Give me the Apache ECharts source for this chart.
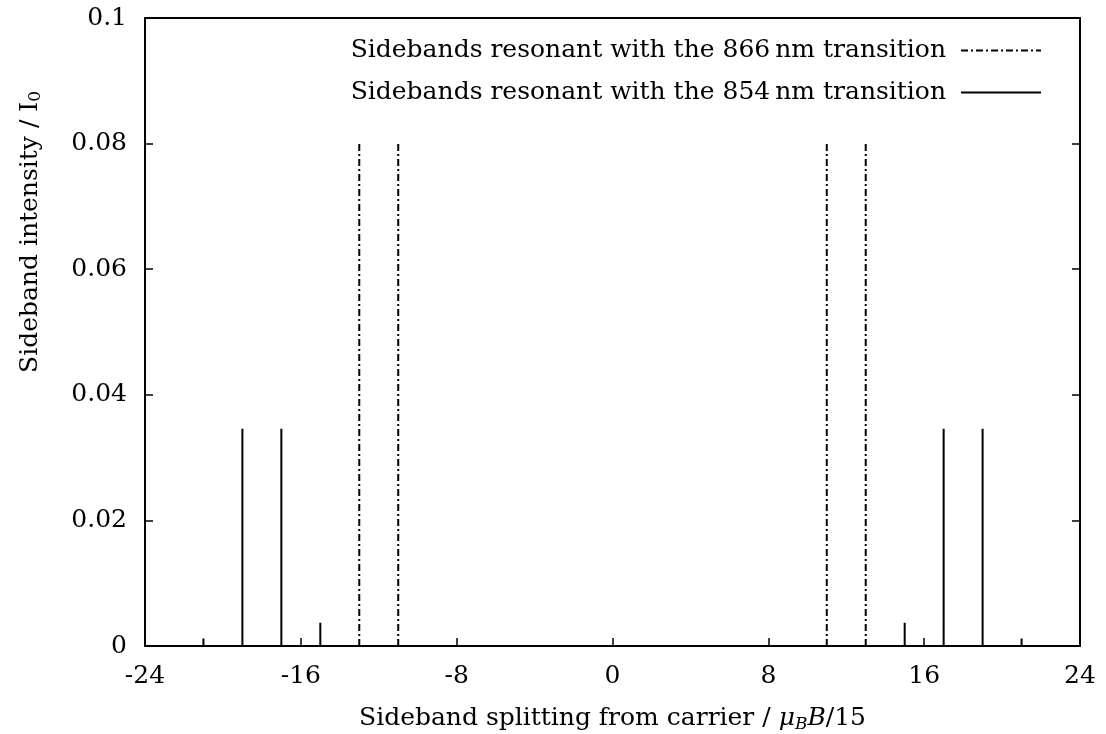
<!DOCTYPE html>
<html>
<head>
<meta charset="utf-8">
<script src="https://cdn.jsdelivr.net/npm/echarts@6/dist/echarts.min.js"></script>
<style>
  html, body { margin: 0; padding: 0; background: #fff; }
  #chart { width: 1106px; height: 734px; }
</style>
</head>
<body>
<div id="chart"></div>
<script>
// Sideband positions (units of mu_B B / 15) and intensities (fraction of I0)
const pos866 = [-13, -11, 11, 13];
const int866 = [0.08, 0.08, 0.08, 0.08];
const pos854 = [-21, -19, -17, -15, 15, 17, 19, 21];
const int854 = [0.0012, 0.0346, 0.0346, 0.0037, 0.0037, 0.0346, 0.0346, 0.0012];
const xTicks = [-24, -16, -8, 0, 8, 16, 24];
const yTicks = [0, 0.02, 0.04, 0.06, 0.08, 0.1];

const name866 = 'Sidebands resonant with the 866\u2009nm transition';
const name854 = 'Sidebands resonant with the 854\u2009nm transition';

// Turn (position, intensity) pairs into vertical impulses broken by gaps
function impulses(xs, ys) {
  const out = [];
  xs.forEach((x, i) => {
    out.push([x, 0], [x, ys[i]], [x, '-']);
  });
  return out;
}

const FONT = 'DejaVu Serif';
const FS = 25;
const chart = echarts.init(document.getElementById('chart'));

const frameLine = { show: true, onZero: false, lineStyle: { color: '#000', width: 2 } };
const innerTick = { show: true, inside: true, length: 8, lineStyle: { color: '#000', width: 1.5 } };

chart.setOption({
  animation: false,
  backgroundColor: '#fff',
  textStyle: { fontFamily: FONT, color: '#000' },
  grid: { left: 145, right: 26, top: 18, bottom: 88, containLabel: false, outerBoundsMode: 'none' },
  legend: {
    right: 59,
    top: 33,
    orient: 'vertical',
    align: 'right',
    itemGap: 17,
    itemWidth: 80,
    itemHeight: 10,
    itemStyle: { opacity: 0 },
    textStyle: { fontFamily: FONT, fontSize: FS, color: '#000', padding: [0, 10, 0, 0] },
    data: [name866, name854]
  },
  xAxis: [{
    type: 'value',
    min: -24, max: 24, interval: 8,
    axisLine: frameLine,
    axisTick: innerTick,
    axisLabel: { fontFamily: FONT, fontSize: FS, color: '#000', margin: 18 },
    splitLine: { show: false },
    name: 'Sideband splitting from carrier / {it|\u03bc}{sub|B}{it|B}/15',
    nameLocation: 'middle',
    nameGap: 58,
    nameTextStyle: {
      fontFamily: FONT, fontSize: FS, color: '#000',
      rich: {
        it: { fontFamily: FONT, fontSize: FS, fontStyle: 'italic', color: '#000' },
        sub: { fontFamily: FONT, fontSize: 17, fontStyle: 'italic', color: '#000', padding: [12, 0, 0, 0] }
      }
    }
  }, {
    type: 'value', position: 'top',
    min: -24, max: 24, interval: 8,
    axisLine: frameLine,
    axisTick: { show: false },
    axisLabel: { show: false },
    splitLine: { show: false }
  }],
  yAxis: [{
    type: 'value',
    min: 0, max: 0.1, interval: 0.02,
    axisLine: frameLine,
    axisTick: innerTick,
    axisLabel: { fontFamily: FONT, fontSize: FS, color: '#000', margin: 18 },
    splitLine: { show: false }
  }, {
    type: 'value', position: 'right',
    min: 0, max: 0.1, interval: 0.02,
    axisLine: frameLine,
    axisTick: innerTick,
    axisLabel: { show: false },
    splitLine: { show: false }
  }],
  graphic: [{
    type: 'text',
    x: 30, y: 232,
    rotation: Math.PI / 2,
    style: {
      text: 'Sideband intensity / I{sub|0}',
      fontFamily: FONT, fontSize: FS, fill: '#000',
      align: 'center', verticalAlign: 'middle',
      rich: {
        sub: { fontFamily: FONT, fontSize: 17, fill: '#000', padding: [12, 0, 0, 0] }
      }
    }
  }],
  series: [{
    name: name866,
    type: 'line',
    showSymbol: false,
    symbol: 'none',
    connectNulls: false,
    lineStyle: { color: '#000', width: 2, type: [7, 3, 2, 3] },
    itemStyle: { color: '#000' },
    data: impulses(pos866, int866)
  }, {
    name: name854,
    type: 'line',
    showSymbol: false,
    symbol: 'none',
    connectNulls: false,
    lineStyle: { color: '#000', width: 2, type: 'solid' },
    itemStyle: { color: '#000' },
    data: impulses(pos854, int854)
  }]
});
</script>
</body>
</html>
